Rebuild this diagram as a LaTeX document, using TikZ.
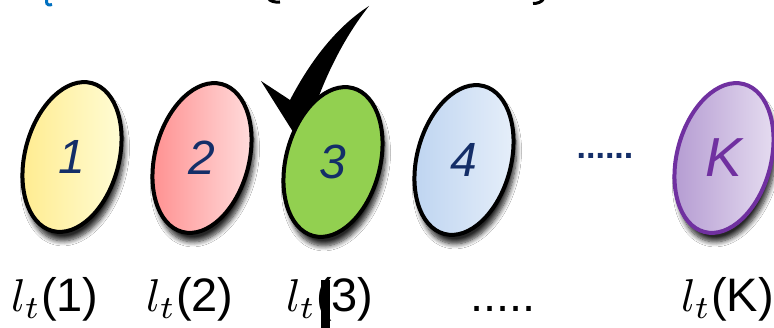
\documentclass[tikz,border=0pt]{standalone}
\usepackage{graphicx}
\usepackage{fontspec}
\setmainfont{Liberation Sans}
\usetikzlibrary{shapes.geometric,shadows.blur}
\definecolor{navy}{HTML}{142E68}
\definecolor{topblue}{HTML}{0070C0}
\definecolor{kpurple}{HTML}{7030A0}
\newcommand{\myLt}{\scalebox{4.6}{\fontsize{10}{12}\selectfont$l_t$}}
\begin{document}
\begin{tikzpicture}[x=1pt,y=-1pt,
  ell/.style={ellipse, draw=black, line width=4pt, minimum width=94pt, minimum height=153pt,
    inner sep=0pt, rotate=-15,
    blur shadow={shadow xshift=3pt, shadow yshift=-9pt, shadow blur steps=8, shadow opacity=85, shadow blur radius=5pt}},
  num/.style={text=navy, font=\fontsize{48}{52}\selectfont\itshape},
  lab/.style={anchor=base west, inner sep=0pt, font=\fontsize{47}{50}\selectfont}
]
\useasboundingbox (0,0) rectangle (774,328);
\clip (0,0) rectangle (774,328);
\fill[white] (0,0) rectangle (774,328);
% clipped fragments at the top edge
\draw[topblue, line width=3pt] (46.5,-2) -- (46.5,1.5) .. controls (46.5,5) and (49,5.5) .. (52,4.5);
\draw[black, line width=3pt] (268,-2) .. controls (270,1.5) and (275,2.5) .. (280,2);
\draw[black, line width=3pt] (544,-2) .. controls (542,2.5) and (537,3.5) .. (533,3.5);
% check mark
\fill[black] (261,81) -- (290,100) .. controls (312,58) and (338,26) .. (369,6)
  .. controls (346,35) and (322,78) .. (306,135) -- (295,135) -- cycle;
% ellipses
\node[ell, left color=orange!35!yellow!45, right color=orange!10!yellow!15] (e1) at (72,157) {};
\node[ell, left color=red!45, right color=red!12] (e2) at (202,158) {};
\node[ell, fill={rgb,255:red,146;green,208;blue,80}] (e3) at (333,162) {};
\node[ell, left color={rgb,255:red,188;green,211;blue,240}, right color={rgb,255:red,232;green,240;blue,250}] (e4) at (464,160) {};
\node[ell, draw=kpurple, left color={rgb,255:red,178;green,152;blue,208}, right color={rgb,255:red,232;green,224;blue,242}] (eK) at (724,158) {};
\node[num] (n1) at (e1) {1};
\node[num] (n2) at (e2) {2};
\node[num] (n3) at (e3) {3};
\node[num] (n4) at (e4) {4};
\node[num, text=kpurple, font=\fontsize{55}{58}\selectfont\itshape] (nK) at (eK) {K};
\node[text=navy, font=\fontsize{34}{36}\selectfont\bfseries, inner sep=0pt] (dots) at (605,156) {......};
% labels
\node[lab] (l1) at (11,312) {\myLt(1)};
\node[lab] (l2) at (146,312) {\myLt(2)};
\node[lab] (l3) at (286,312) {\myLt(3)};
\node[lab] (ld) at (470,312) {.....};
\node[lab] (lK) at (681,312) {\myLt(K)};
\fill[black] (321,280) rectangle (330,328);
\end{tikzpicture}
\end{document}
